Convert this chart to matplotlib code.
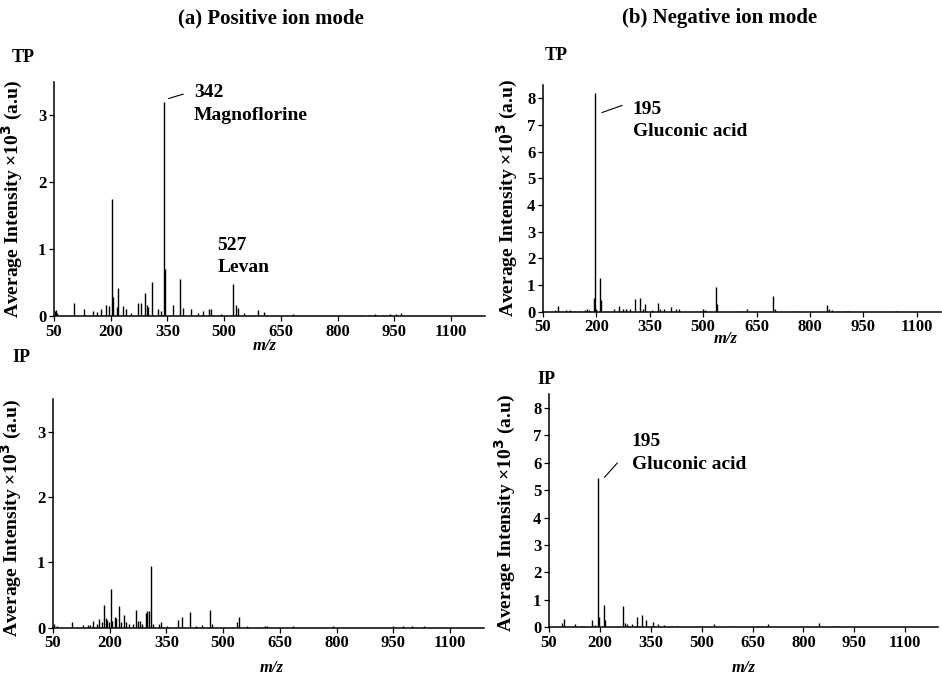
import numpy as np
import matplotlib
matplotlib.use("Agg")
import matplotlib.pyplot as plt

plt.rcParams['font.family'] = ['Liberation Serif', 'DejaVu Serif']
plt.rcParams['font.weight'] = 'bold'

# TP, positive ion mode (m/z, intensity x10^3)
tp_pos_mz = [53, 55, 58, 104, 130, 152, 165, 174, 187, 196, 203, 207, 217, 220, 232, 240, 254,
             271, 280, 291, 295, 300, 309, 324, 333, 342, 344, 364, 383, 390, 412, 430, 443,
             461, 465, 492, 524, 531, 537, 553, 591, 606, 681, 760, 800, 862, 880, 900, 920,
             940, 955, 968]
tp_pos_int = [0.07, 0.09, 0.05, 0.19, 0.11, 0.07, 0.06, 0.10, 0.17, 0.15, 1.75, 0.29, 0.14, 0.42,
              0.15, 0.10, 0.05, 0.19, 0.19, 0.35, 0.16, 0.13, 0.51, 0.10, 0.07, 3.20, 0.70, 0.17,
              0.55, 0.12, 0.11, 0.05, 0.07, 0.10, 0.11, 0.03, 0.48, 0.17, 0.12, 0.04, 0.09, 0.06,
              0.03, 0.02, 0.02, 0.02, 0.02, 0.03, 0.02, 0.03, 0.03, 0.04]

# TP, negative ion mode
tp_neg_mz = [84, 91, 115, 126, 140, 152, 168, 174, 180, 193, 195, 198, 211, 214, 250, 264, 275,
             283, 294, 308, 322, 332, 336, 355, 374, 379, 391, 411, 425, 432, 500, 505, 536,
             538, 594, 605, 622, 697, 702, 763, 849, 854, 861, 898, 908, 1043]
tp_neg_int = [0.06, 0.21, 0.05, 0.06, 0.04, 0.04, 0.06, 0.10, 0.06, 0.50, 8.20, 0.12, 1.28, 0.44,
              0.12, 0.20, 0.12, 0.12, 0.12, 0.49, 0.51, 0.10, 0.29, 0.05, 0.34, 0.12, 0.10, 0.16,
              0.10, 0.10, 0.10, 0.05, 0.91, 0.28, 0.03, 0.04, 0.10, 0.59, 0.10, 0.02, 0.27, 0.10,
              0.05, 0.03, 0.02, 0.02]

# IP, positive ion mode
ip_pos_mz = [53, 60, 99, 128, 143, 148, 157, 166, 172, 179, 185, 190, 194, 198, 203, 206, 214,
             217, 225, 229, 238, 243, 252, 261, 270, 274, 280, 286, 295, 299, 304, 308, 314,
             329, 336, 351, 381, 392, 412, 428, 443, 466, 470, 536, 541, 562, 611, 617, 685,
             791, 910, 950, 975, 1000, 1030]
ip_pos_int = [0.06, 0.03, 0.09, 0.04, 0.04, 0.04, 0.10, 0.05, 0.13, 0.08, 0.35, 0.15, 0.12, 0.09,
              0.59, 0.10, 0.17, 0.15, 0.33, 0.08, 0.20, 0.08, 0.06, 0.06, 0.27, 0.10, 0.10, 0.06,
              0.23, 0.25, 0.26, 0.94, 0.05, 0.06, 0.08, 0.03, 0.11, 0.17, 0.24, 0.03, 0.04, 0.27,
              0.06, 0.09, 0.16, 0.02, 0.03, 0.03, 0.02, 0.02, 0.01, 0.02, 0.03, 0.02, 0.02]

# IP, negative ion mode
ip_neg_mz = [87, 94, 127, 146, 153, 176, 186, 195, 197, 212, 215, 254, 267, 274, 281, 296, 309,
             323, 336, 358, 372, 389, 412, 427, 500, 537, 592, 663, 675, 697, 847, 894, 903]
ip_neg_int = [0.15, 0.29, 0.12, 0.04, 0.05, 0.27, 0.06, 5.45, 0.38, 0.80, 0.27, 0.05, 0.77, 0.13,
              0.10, 0.10, 0.35, 0.44, 0.27, 0.20, 0.10, 0.06, 0.05, 0.04, 0.03, 0.10, 0.05, 0.03,
              0.03, 0.10, 0.13, 0.03, 0.02]

xticks = [50, 200, 350, 500, 650, 800, 950, 1100]

fig = plt.figure(figsize=(9.42, 6.75), dpi=100)

# rect, xmax, ymax, yticks, ylabel x/y, xlabel x/y (axes coords), data
panels = [
    ([0.0573, 0.5319, 0.4575, 0.3467], 1190, 3.5, [0, 1, 2, 3], -0.068, 0.5, 0.49, -0.095,
     tp_pos_mz, tp_pos_int),
    ([0.5764, 0.5382, 0.4225, 0.3359], 1168, 8.5, range(9), -0.058, 0.5, 0.46, -0.085,
     tp_neg_mz, tp_neg_int),
    ([0.0563, 0.0701, 0.4575, 0.3388], 1190, 3.5, [0, 1, 2, 3], -0.068, 0.48, 0.507, -0.14,
     ip_pos_mz, ip_pos_int),
    ([0.5828, 0.0711, 0.4130, 0.3447], 1197, 8.5, range(9), -0.08, 0.49, 0.5, -0.14,
     ip_neg_mz, ip_neg_int),
]

axes = []
for rect, xmax, ymax, yt, ylx, yly, xlx, xly, mz, inten in panels:
    ax = fig.add_axes(rect)
    ax.vlines(mz, 0, inten, color='black', linewidth=1.0)
    ax.set_xlim(50, xmax)
    ax.set_ylim(0, ymax)
    ax.set_xticks(xticks)
    ax.set_yticks(list(yt))
    for s in ['top', 'right']:
        ax.spines[s].set_visible(False)
    for s in ['left', 'bottom']:
        ax.spines[s].set_linewidth(1.1)
    ax.tick_params(direction='out', length=3.5, width=0.9, labelsize=12, pad=2)
    ax.set_ylabel("Average Intensity ×10$^\\mathbf{3}$ (a.u)", fontsize=14, fontweight='bold')
    ax.yaxis.set_label_coords(ylx, yly)
    ax.set_xlabel("m/z", fontsize=12, fontstyle='italic', fontweight='bold')
    ax.xaxis.set_label_coords(xlx, xly)
    axes.append(ax)

ann = dict(fontsize=14, fontweight='bold', ha='left', va='center')
line = dict(arrowstyle='-', color='black', lw=0.8)

# TP positive: 342 Magnoflorine, 527 Levan
ax = axes[0]
ax.annotate("", xy=(346, 3.24), xytext=(399, 3.33), arrowprops=line)
ax.text(420, 3.34, "342", **ann)
ax.text(420, 3.0, "Magnoflorine", **ann)
ax.text(483, 1.05, "527", **ann)
ax.text(483, 0.73, "Levan", **ann)

# TP negative: 195 Gluconic acid
ax = axes[1]
ax.annotate("", xy=(208, 7.43), xytext=(280, 7.77), arrowprops=line)
ax.text(302, 7.58, "195", **ann)
ax.text(302, 6.77, "Gluconic acid", **ann)

# IP negative: 195 Gluconic acid
ax = axes[3]
ax.annotate("", xy=(208, 5.39), xytext=(257, 6.07), arrowprops=line)
ax.text(294, 6.79, "195", **ann)
ax.text(294, 5.94, "Gluconic acid", **ann)

fig.text(271 / 942, 1 - 18 / 675, "(a) Positive ion mode", fontsize=15, fontweight='bold',
         ha='center', va='center')
fig.text(720 / 942, 1 - 18 / 675, "(b) Negative ion mode", fontsize=15, fontweight='bold',
         ha='center', va='center')
fig.text(12 / 942, 1 - 57 / 675, "TP", fontsize=13, fontweight='bold', ha='left', va='center')
fig.text(545 / 942, 1 - 55 / 675, "TP", fontsize=13, fontweight='bold', ha='left', va='center')
fig.text(12 / 942, 1 - 357 / 675, "IP", fontsize=13, fontweight='bold', ha='left', va='center')
fig.text(537 / 942, 1 - 380 / 675, "IP", fontsize=13, fontweight='bold', ha='left', va='center')

fig.savefig("out.png", dpi=100)
